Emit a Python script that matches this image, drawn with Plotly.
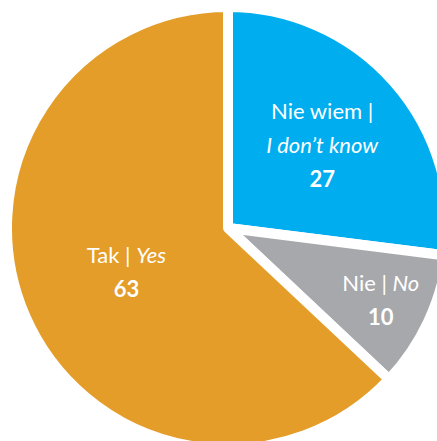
import plotly.graph_objects as go

# Survey answers, drawn clockwise from 12 o'clock
labels = ["Nie wiem |<br><i>I don’t know</i>", "Nie | <i>No</i>", "Tak | <i>Yes</i>"]
values = [27, 10, 63]
colors = ["#00AEEF", "#A7A8AB", "#E39D28"]

# Larger base font gives roomier line spacing; visible glyphs are set per span
template = (
    "<span style='font-size:22px'>%{label}</span><br>"
    "<span style='font-size:22px'><b>%{value}</b></span>"
)

fig = go.Figure(
    go.Pie(
        labels=labels,
        values=values,
        sort=False,
        direction="clockwise",
        rotation=0,
        marker=dict(colors=colors, line=dict(color="white", width=10)),
        texttemplate=template,
        textposition="inside",
        insidetextorientation="horizontal",
        textfont=dict(family="Lato", size=26, color="white"),
        hoverinfo="skip",
        showlegend=False,
    )
)

fig.update_layout(
    width=449,
    height=449,
    margin=dict(l=7, r=0, t=7, b=0),
    paper_bgcolor="white",
    showlegend=False,
)

fig.write_html(
    "out.html",
    post_script=(
        "document.documentElement.style.overflow='hidden';"
        "document.body.style.overflow='hidden';"
    ),
)
